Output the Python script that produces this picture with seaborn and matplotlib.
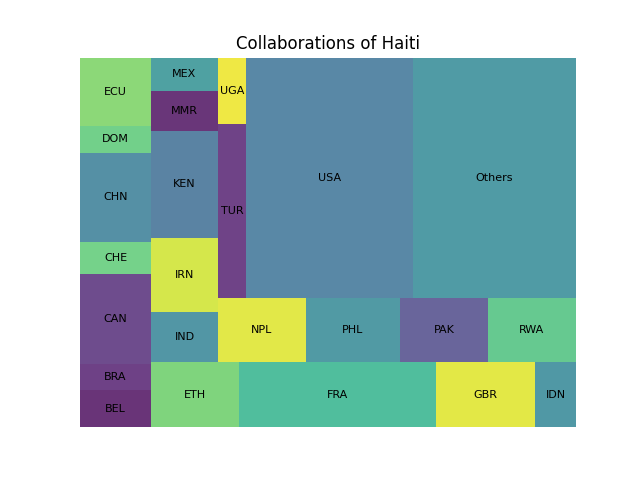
import matplotlib
matplotlib.use("Agg")
import matplotlib.pyplot as plt
import seaborn as sns

labels = ["BEL", "BRA", "CAN", "CHE", "CHN", "DOM", "ECU",
          "ETH", "FRA", "GBR", "IDN",
          "IND", "IRN", "KEN", "MMR", "MEX",
          "NPL", "PHL", "PAK", "RWA",
          "TUR", "UGA",
          "USA", "Others"]
values = [2648, 1846, 6390, 2251, 6319, 1917, 4828,
          5720, 12805, 6435, 2665,
          3350, 4958, 7149, 2680, 2211,
          5632, 6016, 5632, 5632,
          4872, 1848,
          40080, 39120]
colors = ["#693478", "#6e4186", "#6e4c8d", "#75d28a", "#5590a5", "#72d08a", "#8cd878",
          "#7fd47d", "#50be9d", "#e3e846", "#5098a5",
          "#5296a5", "#d5e74b", "#5a83a3", "#693679", "#4fa1a2",
          "#e2e848", "#519aa4", "#69659b", "#66c990",
          "#6f4387", "#efe844",
          "#5988a6", "#509ba5"]


def normalize_sizes(sizes, dx, dy):
    total = sum(sizes)
    return [s * dx * dy / total for s in sizes]


def layoutrow(sizes, x, y, dx, dy):
    width = sum(sizes) / dy
    rects = []
    for s in sizes:
        rects.append({"x": x, "y": y, "dx": width, "dy": s / width})
        y += s / width
    return rects


def layoutcol(sizes, x, y, dx, dy):
    height = sum(sizes) / dx
    rects = []
    for s in sizes:
        rects.append({"x": x, "y": y, "dx": s / height, "dy": height})
        x += s / height
    return rects


def layout(sizes, x, y, dx, dy):
    return layoutrow(sizes, x, y, dx, dy) if dx >= dy else layoutcol(sizes, x, y, dx, dy)


def leftover(sizes, x, y, dx, dy):
    area = sum(sizes)
    if dx >= dy:
        w = area / dy
        return x + w, y, dx - w, dy
    h = area / dx
    return x, y + h, dx, dy - h


def worst_ratio(sizes, x, y, dx, dy):
    return max(max(r["dx"] / r["dy"], r["dy"] / r["dx"]) for r in layout(sizes, x, y, dx, dy))


def squarify(sizes, x, y, dx, dy):
    sizes = list(map(float, sizes))
    if len(sizes) == 0:
        return []
    if len(sizes) == 1:
        return layout(sizes, x, y, dx, dy)
    i = 1
    while i < len(sizes) and worst_ratio(sizes[:i], x, y, dx, dy) >= worst_ratio(sizes[:i + 1], x, y, dx, dy):
        i += 1
    current, remaining = sizes[:i], sizes[i:]
    lx, ly, ldx, ldy = leftover(current, x, y, dx, dy)
    return layout(current, x, y, dx, dy) + squarify(remaining, lx, ly, ldx, ldy)


fig, ax = plt.subplots(figsize=(6.4, 4.8), dpi=100)
rects = squarify(normalize_sizes(values, 100, 100), 0, 0, 100, 100)
ax.bar([r["x"] for r in rects], [r["dy"] for r in rects],
       width=[r["dx"] for r in rects], bottom=[r["y"] for r in rects],
       color=colors, align="edge", linewidth=0)
for r, lab in zip(rects, labels):
    ax.text(r["x"] + r["dx"] / 2, r["y"] + r["dy"] / 2, lab,
            va="center", ha="center", fontsize=8)
ax.set_xlim(0, 100)
ax.set_ylim(0, 100)
ax.set_title("Collaborations of Haiti")
sns.despine(ax=ax, left=True, bottom=True)
ax.axis("off")
fig.savefig("out.png")
